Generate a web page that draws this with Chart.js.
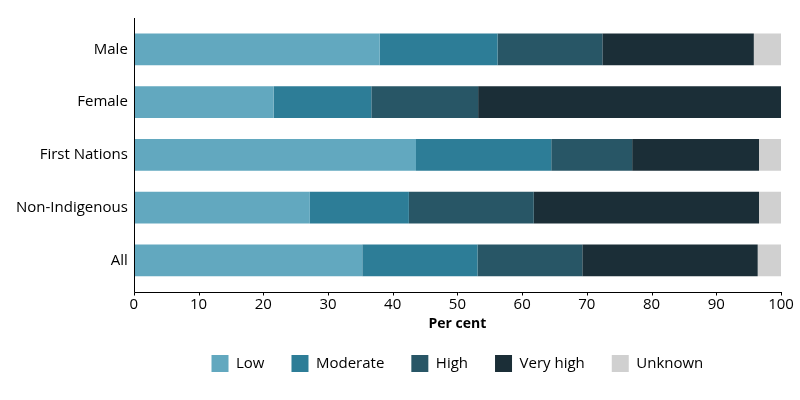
<!DOCTYPE html>
<html>
<head>
<meta charset="utf-8">
<script src="https://cdn.jsdelivr.net/npm/chart.js@4"></script>
<style>
  html, body { margin: 0; padding: 0; background: #fff; }
  #wrap { width: 800px; height: 400px; }
</style>
</head>
<body>
<div id="wrap"><canvas id="grafico"></canvas></div>
<script>
// categories and series (per cent)
const labels = ['Male', 'Female', 'First Nations', 'Non-Indigenous', 'All'];
const low = [38.0, 21.6, 43.6, 27.2, 35.3];
const moderate = [18.2, 15.1, 20.9, 15.3, 17.8];
const high = [16.2, 16.5, 12.5, 19.3, 16.2];
const veryHigh = [23.4, 46.8, 19.6, 34.8, 27.1];
const unknown = [4.2, 0, 3.4, 3.4, 3.6];
const xTicks = [0, 10, 20, 30, 40, 50, 60, 70, 80, 90, 100];

const fonte = 'Open Sans';
const folga = 5.5; // axis lines sit a little outside the bar area

// axis lines + x tick marks, drawn a bit away from the bars
const eixos = {
    id: 'eixos',
    afterDatasetsDraw(chart) {
        const ctx = chart.ctx;
        const a = chart.chartArea;
        const x = chart.scales.x;
        const yb = Math.round(a.bottom + folga) + 0.5;
        const xl = Math.round(a.left) + 0.5;
        ctx.save();
        ctx.strokeStyle = '#000';
        ctx.lineWidth = 1;
        ctx.beginPath();
        ctx.moveTo(xl, Math.round(a.top - folga));
        ctx.lineTo(xl, yb);
        ctx.lineTo(Math.round(a.right) + 1, yb);
        xTicks.forEach(v => {
            const px = Math.round(x.getPixelForValue(v)) + 0.5;
            ctx.moveTo(px, yb);
            ctx.lineTo(px, yb + 3);
        });
        ctx.stroke();
        ctx.restore();
    }
};

const grafico = document.getElementById('grafico');

const data = {
    labels: labels,
    datasets: [
        { label: 'Low', data: low, backgroundColor: '#62a8bf' },
        { label: 'Moderate', data: moderate, backgroundColor: '#2d7d97' },
        { label: 'High', data: high, backgroundColor: '#285666' },
        { label: 'Very high', data: veryHigh, backgroundColor: '#1b2e37' },
        { label: 'Unknown', data: unknown, backgroundColor: '#d0d0d0' }
    ]
};

const config = {
    type: 'bar',
    data: data,
    plugins: [eixos],
    options: {
        indexAxis: 'y',
        responsive: true,
        maintainAspectRatio: false,
        animation: false,
        categoryPercentage: 0.6,
        barPercentage: 1,
        layout: { padding: { top: 23, right: 19, bottom: 18, left: 10 } },
        scales: {
            x: {
                stacked: true,
                min: 0,
                max: 100,
                afterBuildTicks: axis => { axis.ticks = xTicks.map(v => ({ value: v })); },
                grid: { display: false, drawTicks: true, tickLength: 3 + folga },
                border: { display: false },
                ticks: {
                    color: '#000',
                    padding: 1,
                    maxRotation: 0,
                    font: { size: 15, family: fonte }
                },
                title: {
                    display: true,
                    text: 'Per cent',
                    color: '#000',
                    padding: { top: 0, bottom: -4 },
                    font: { size: 14, family: fonte, weight: 'bold' }
                }
            },
            y: {
                stacked: true,
                grid: { display: false, drawTicks: false },
                border: { display: false },
                ticks: {
                    color: '#000',
                    padding: 6,
                    font: { size: 15, family: fonte }
                }
            }
        },
        plugins: {
            tooltip: { enabled: false },
            legend: {
                position: 'bottom',
                fullSize: false,
                labels: {
                    color: '#000',
                    boxWidth: 17,
                    boxHeight: 17,
                    padding: 27,
                    font: { size: 15, family: fonte }
                }
            }
        }
    }
};

const grafico_1 = new Chart(grafico, config);
</script>
</body>
</html>
